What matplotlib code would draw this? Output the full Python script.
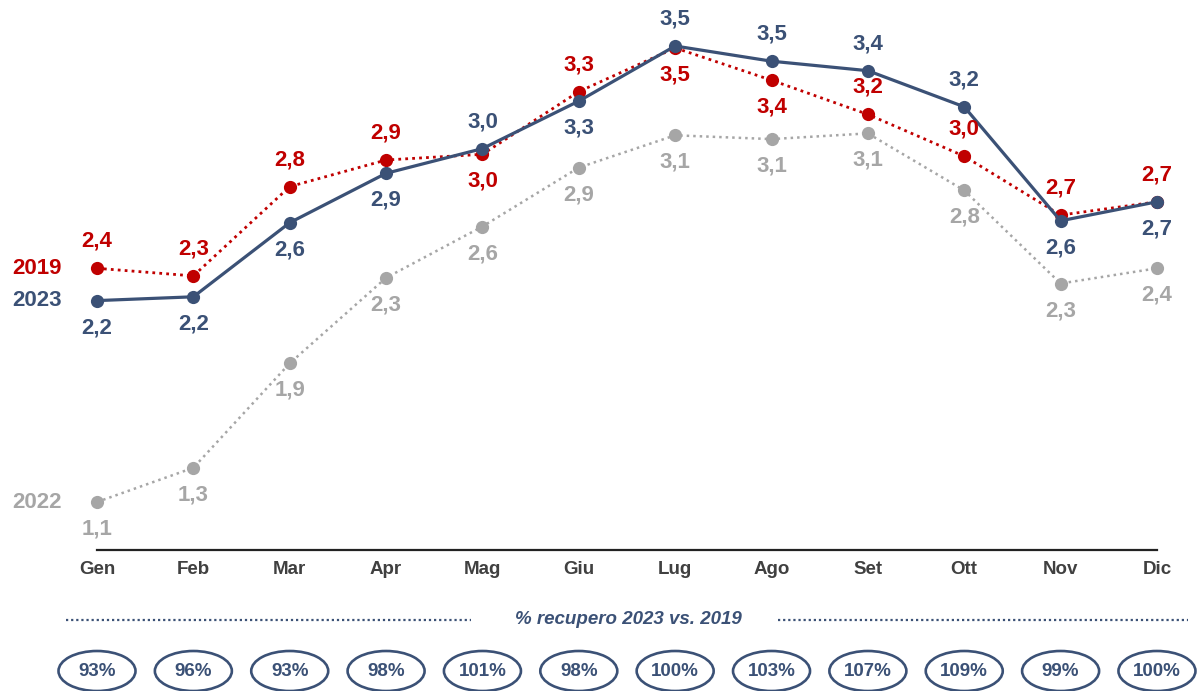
import matplotlib.pyplot as plt
from matplotlib.patches import Ellipse

plt.rcParams['font.family'] = ['Liberation Sans', 'DejaVu Sans']

months = ['Gen', 'Feb', 'Mar', 'Apr', 'Mag', 'Giu', 'Lug', 'Ago', 'Set', 'Ott', 'Nov', 'Dic']

# values (plotted position) and the printed labels
v2023 = [2.16, 2.18, 2.57, 2.83, 2.96, 3.21, 3.50, 3.42, 3.37, 3.18, 2.58, 2.68]
v2019 = [2.33, 2.29, 2.76, 2.90, 2.93, 3.26, 3.49, 3.32, 3.14, 2.92, 2.61, 2.68]
v2022 = [1.10, 1.28, 1.83, 2.28, 2.55, 2.86, 3.03, 3.01, 3.04, 2.74, 2.25, 2.33]
lab2023 = ['2,2', '2,2', '2,6', '2,9', '3,0', '3,3', '3,5', '3,5', '3,4', '3,2', '2,6', '2,7']
lab2019 = ['2,4', '2,3', '2,8', '2,9', '3,0', '3,3', '3,5', '3,4', '3,2', '3,0', '2,7', '2,7']
lab2022 = ['1,1', '1,3', '1,9', '2,3', '2,6', '2,9', '3,1', '3,1', '3,1', '2,8', '2,3', '2,4']
recupero = ['93%', '96%', '93%', '98%', '101%', '98%', '100%', '103%', '107%', '109%', '99%', '100%']

# label side for each point: +1 above, -1 below
side2023 = [-1, -1, -1, -1, 1, -1, 1, 1, 1, 1, -1, -1]
side2019 = [1, 1, 1, 1, -1, 1, -1, -1, 1, 1, 1, 1]
side2022 = [-1] * 12

BLUE = '#3B5176'
RED = '#C00000'
GRAY = '#A6A6A6'
DARK = '#404040'

# pixel layout helpers (figure is 1198x691 px, axes fill it)
X0, DX = 97, 96.36
Y0, V0, DY = 502, 1.1, 190


def px(x):
    return (x - X0) / DX


def py(y):
    return V0 + (Y0 - y) / DY


fig = plt.figure(figsize=(11.98, 6.91), dpi=100)
ax = fig.add_axes([0, 0, 1, 1])
ax.set_xlim(px(0), px(1198))
ax.set_ylim(py(691), py(0))
ax.axis('off')

x = list(range(len(months)))

ax.plot(x, v2022, color=GRAY, lw=1.8, ls=(0, (1, 1.6)), marker='o', ms=9.5,
        markeredgewidth=0, zorder=2)
ax.plot(x, v2019, color=RED, lw=2.0, ls=(0, (1, 1.5)), marker='o', ms=9.5,
        markeredgewidth=0, zorder=3)
ax.plot(x, v2023, color=BLUE, lw=2.3, marker='o', ms=9.5,
        markeredgewidth=0, zorder=4)

for vals, labs, sides, col in [(v2022, lab2022, side2022, GRAY),
                               (v2019, lab2019, side2019, RED),
                               (v2023, lab2023, side2023, BLUE)]:
    for i, (v, t, s) in enumerate(zip(vals, labs, sides)):
        ax.annotate(t, (i, v), xytext=(0, 19.5 * s), textcoords='offset points',
                    ha='center', va='center', fontsize=16, fontweight='bold',
                    color=col, zorder=5)

# series names on the left
ax.text(px(62), v2019[0], '2019', ha='right', va='center', fontsize=16,
        fontweight='bold', color=RED)
ax.text(px(62), v2023[0], '2023', ha='right', va='center', fontsize=16,
        fontweight='bold', color=BLUE)
ax.text(px(62), v2022[0], '2022', ha='right', va='center', fontsize=16,
        fontweight='bold', color=GRAY)

# baseline and month labels
ax.plot([0, len(months) - 1], [py(550)] * 2, color='#222222', lw=1.6)
for i, m in enumerate(months):
    ax.text(i, py(569), m, ha='center', va='center', fontsize=13.5,
            fontweight='bold', color=DARK)

# recovery band
ax.text(px(628), py(620), '% recupero 2023 vs. 2019', ha='center', va='center',
        fontsize=13.5, fontweight='bold', style='italic', color=BLUE)
ax.plot([px(66), px(471)], [py(620)] * 2, color=BLUE, lw=1.6, ls=(0, (1, 1.3)))
ax.plot([px(778), px(1188)], [py(620)] * 2, color=BLUE, lw=1.6, ls=(0, (1, 1.3)))

for i, r in enumerate(recupero):
    ax.add_patch(Ellipse((i, py(671)), 77 / DX, 40 / DY, fill=False,
                         edgecolor=BLUE, lw=1.9))
    ax.text(i, py(671), r, ha='center', va='center', fontsize=13.5,
            fontweight='bold', color=BLUE)

fig.savefig('out.png', dpi=100)
